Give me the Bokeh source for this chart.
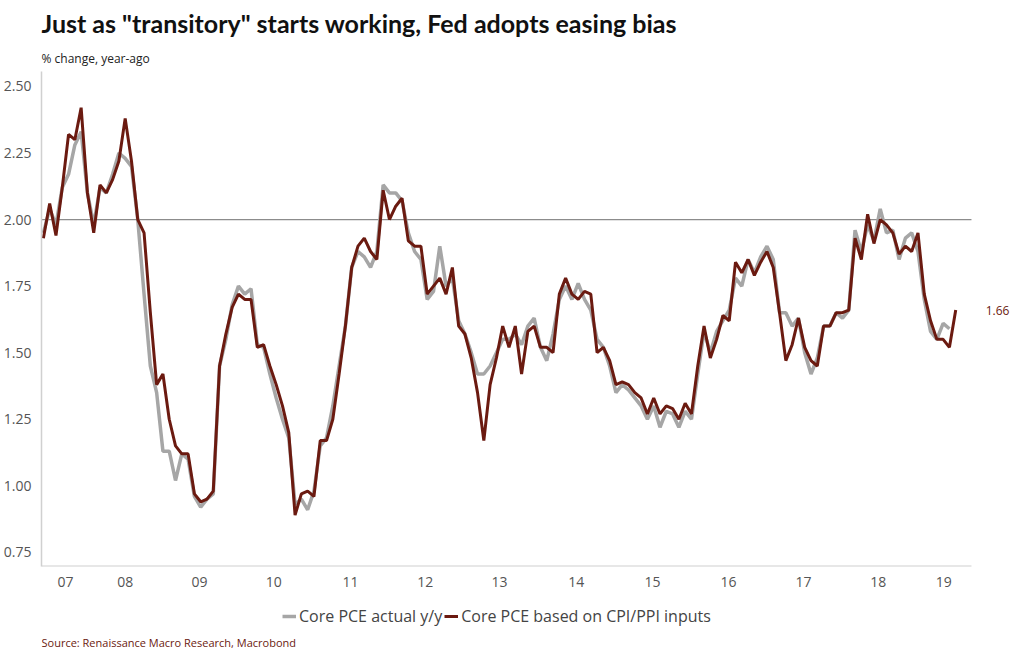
import numpy as np
from bokeh.plotting import figure
from bokeh.layouts import column
from bokeh.models import FixedTicker, Range1d, Legend, LegendItem, Label, Title
from bokeh.core.properties import value
from bokeh.embed import file_html
from bokeh.resources import INLINE

actual = [1.95,2.04,1.98,2.12,2.17,2.28,2.33,2.10,1.98,2.12,2.10,2.17,2.25,2.23,2.20,2.00,1.72,1.45,1.35,1.13,1.13,1.02,1.12,1.10,0.96,0.92,0.95,0.97,1.45,1.55,1.68,1.75,1.72,1.74,1.53,1.52,1.42,1.33,1.25,1.18,0.93,0.95,0.91,0.98,1.15,1.18,1.30,1.45,1.60,1.82,1.88,1.86,1.82,1.88,2.13,2.10,2.10,2.07,1.95,1.88,1.85,1.70,1.73,1.90,1.75,1.78,1.62,1.57,1.50,1.42,1.42,1.45,1.50,1.55,1.55,1.57,1.53,1.60,1.63,1.52,1.47,1.57,1.70,1.75,1.70,1.76,1.70,1.66,1.55,1.52,1.45,1.35,1.38,1.36,1.33,1.30,1.25,1.30,1.22,1.28,1.27,1.22,1.28,1.25,1.42,1.58,1.50,1.58,1.62,1.66,1.78,1.75,1.85,1.80,1.86,1.90,1.85,1.65,1.65,1.60,1.63,1.50,1.42,1.48,1.60,1.60,1.65,1.63,1.66,1.96,1.88,1.98,1.92,2.04,1.95,1.96,1.85,1.93,1.95,1.88,1.70,1.58,1.55,1.61,1.59]
inputs = [1.93,2.06,1.94,2.12,2.32,2.30,2.42,2.10,1.95,2.13,2.10,2.15,2.22,2.38,2.22,2.00,1.95,1.65,1.38,1.42,1.25,1.15,1.12,1.12,0.97,0.94,0.95,0.98,1.45,1.57,1.67,1.72,1.70,1.70,1.52,1.53,1.45,1.38,1.30,1.20,0.89,0.97,0.98,0.96,1.17,1.17,1.25,1.42,1.60,1.82,1.90,1.93,1.88,1.85,2.11,2.00,2.05,2.08,1.92,1.90,1.90,1.72,1.75,1.78,1.72,1.82,1.60,1.57,1.48,1.35,1.17,1.38,1.48,1.60,1.52,1.60,1.42,1.58,1.60,1.52,1.52,1.50,1.72,1.78,1.72,1.70,1.73,1.72,1.50,1.52,1.47,1.38,1.39,1.38,1.35,1.33,1.27,1.33,1.27,1.30,1.29,1.25,1.31,1.27,1.45,1.60,1.48,1.55,1.64,1.62,1.84,1.80,1.85,1.79,1.84,1.88,1.82,1.65,1.47,1.53,1.63,1.52,1.47,1.45,1.60,1.60,1.65,1.65,1.66,1.93,1.85,2.02,1.91,2.00,1.98,1.95,1.87,1.90,1.88,1.95,1.72,1.62,1.55,1.55,1.52,1.66]
year_labels = ["07","08","09","10","11","12","13","14","15","16","17","18","19"]
year_pos = [3.5,13.0,24.8,36.6,48.8,60.7,72.5,84.7,96.8,108.9,120.8,132.7,143.1]
y_ticks = [0.75,1.00,1.25,1.50,1.75,2.00,2.25,2.50]
last_label = "1.66"

GRAY = "#a6a6a6"
DARK = "#6b1a10"
FONT = "Open Sans"
AXIS_END = 147.5  # where the x axis line stops

p = figure(frame_width=974, frame_height=495, output_backend="svg", toolbar_location=None,
           x_range=Range1d(-0.3, 154.5), y_range=Range1d(0.697, 2.556),
           min_border_left=32, min_border_right=0, min_border_top=4, min_border_bottom=0)
p.title.text = 'Just as "transitory" starts working, Fed adopts easing bias'
p.title.text_font = "Lato"
p.title.text_font_size = "25px"
p.title.text_font_style = "bold"
p.title.text_color = "#111111"
p.add_layout(Title(text="% change, year-ago", text_font=FONT, text_font_size="12px",
                   text_font_style="normal", text_color="#222222"), "above")

p.outline_line_color = None
p.xgrid.visible = False
p.ygrid.visible = False

p.yaxis.ticker = FixedTicker(ticks=y_ticks)
p.yaxis.major_label_overrides = {t: f"{t:.2f}" for t in y_ticks}
p.xaxis.ticker = FixedTicker(ticks=year_pos)
p.xaxis.major_label_overrides = {pos: lab for pos, lab in zip(year_pos, year_labels)}
for ax in (p.xaxis, p.yaxis):
    ax.major_tick_line_color = None
    ax.minor_tick_line_color = None
    ax.axis_line_color = "#d0d0d0"
    ax.axis_line_width = 1.5
    ax.major_label_text_font = FONT
    ax.major_label_text_font_size = "14px"
    ax.major_label_text_color = "#555555"
p.xaxis.axis_line_color = None
p.yaxis.major_label_standoff = 4
p.xaxis.major_label_standoff = 4

p.segment(x0=[-0.3], y0=[0.697], x1=[AXIS_END], y1=[0.697], line_color="#d0d0d0", line_width=2)
p.segment(x0=[-0.3], y0=[2.0], x1=[AXIS_END], y1=[2.0], line_color="#8c8c8c", line_width=1.3)

r1 = p.line(np.arange(len(actual)), actual, line_color=GRAY, line_width=3.5)
r2 = p.line(np.arange(len(inputs)), inputs, line_color=DARK, line_width=3)

p.text(x=[len(inputs) - 1], y=[inputs[-1]], text=[last_label], x_offset=30, y_offset=0,
       text_baseline="middle", text_font=value(FONT), text_font_size="12px", text_color=DARK)

q = figure(frame_width=1006, frame_height=62, output_backend="svg", toolbar_location=None,
           x_range=Range1d(0, 1), y_range=Range1d(0, 1), min_border=0)
q.axis.visible = False
q.grid.visible = False
q.outline_line_color = None
d1 = q.line([np.nan, np.nan], [np.nan, np.nan], line_color=GRAY, line_width=3.5)
d2 = q.line([np.nan, np.nan], [np.nan, np.nan], line_color=DARK, line_width=3)
legend = Legend(items=[LegendItem(label="Core PCE actual y/y", renderers=[d1]),
                       LegendItem(label="Core PCE based on CPI/PPI inputs", renderers=[d2])],
                orientation="horizontal", location=(282, 24), label_text_font=FONT,
                label_text_font_size="16px", label_text_color="#444444",
                border_line_color=None, background_fill_alpha=0, glyph_width=14, spacing=2,
                padding=2, margin=0, label_standoff=3)
q.add_layout(legend)
q.add_layout(Label(x=0, y=2, x_units="screen", y_units="screen",
                   text="Source: Renaissance Macro Research, Macrobond", text_font=FONT,
                   text_font_size="11px", text_color=DARK))

open("out.html", "w").write(file_html(column(p, q, spacing=0), INLINE))
